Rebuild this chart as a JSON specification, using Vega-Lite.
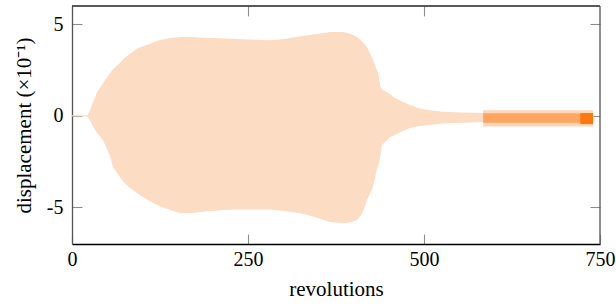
{
  "$schema": "https://vega.github.io/schema/vega-lite/v6.json",
  "autosize": "none",
  "width": 528,
  "height": 238,
  "padding": {"left": 72, "top": 6, "right": 16, "bottom": 63},
  "background": "white",
  "config": {
    "view": {"stroke": null},
    "axis": {
      "labelFont": "Liberation Serif",
      "titleFont": "Liberation Serif",
      "labelFontSize": 20,
      "titleFontSize": 21,
      "labelColor": "#000",
      "titleColor": "#000",
      "titleFontWeight": "normal",
      "grid": false,
      "tickColor": "#8c8c8c",
      "tickWidth": 1.1,
      "tickSize": 10,
      "labelFlush": false,
      "labelOverlap": false
    }
  },
  "datasets": {
    "main": [
      {"rev": 0, "lo": -0.03, "hi": 0.03},
      {"rev": 22, "lo": -0.03, "hi": 0.03},
      {"rev": 26, "lo": -0.3, "hi": 0.35},
      {"rev": 30, "lo": -0.6, "hi": 0.75},
      {"rev": 35, "lo": -0.9, "hi": 1.24},
      {"rev": 44, "lo": -1.33, "hi": 1.8},
      {"rev": 54, "lo": -2.2, "hi": 2.33},
      {"rev": 58, "lo": -2.78, "hi": 2.55},
      {"rev": 69, "lo": -3.4, "hi": 2.93},
      {"rev": 73, "lo": -3.6, "hi": 3.1},
      {"rev": 81, "lo": -3.9, "hi": 3.35},
      {"rev": 93, "lo": -4.23, "hi": 3.69},
      {"rev": 101, "lo": -4.45, "hi": 3.8},
      {"rev": 116, "lo": -4.78, "hi": 4.02},
      {"rev": 126, "lo": -4.95, "hi": 4.15},
      {"rev": 140, "lo": -5.14, "hi": 4.25},
      {"rev": 154, "lo": -5.32, "hi": 4.3},
      {"rev": 171, "lo": -5.3, "hi": 4.3},
      {"rev": 186, "lo": -5.24, "hi": 4.27},
      {"rev": 211, "lo": -5.15, "hi": 4.24},
      {"rev": 232, "lo": -5.12, "hi": 4.2},
      {"rev": 253, "lo": -5.11, "hi": 4.17},
      {"rev": 281, "lo": -5.11, "hi": 4.13},
      {"rev": 302, "lo": -5.2, "hi": 4.2},
      {"rev": 324, "lo": -5.32, "hi": 4.35},
      {"rev": 343, "lo": -5.5, "hi": 4.45},
      {"rev": 357, "lo": -5.69, "hi": 4.52},
      {"rev": 367, "lo": -5.8, "hi": 4.58},
      {"rev": 386, "lo": -5.87, "hi": 4.58},
      {"rev": 398, "lo": -5.8, "hi": 4.45},
      {"rev": 405, "lo": -5.69, "hi": 4.31},
      {"rev": 411, "lo": -5.4, "hi": 4.1},
      {"rev": 416, "lo": -4.96, "hi": 3.9},
      {"rev": 419, "lo": -4.6, "hi": 3.76},
      {"rev": 426, "lo": -4.05, "hi": 3.2},
      {"rev": 428, "lo": -3.8, "hi": 3.04},
      {"rev": 433, "lo": -2.96, "hi": 2.5},
      {"rev": 435, "lo": -2.7, "hi": 2.33},
      {"rev": 438, "lo": -2.24, "hi": 1.6},
      {"rev": 440, "lo": -1.6, "hi": 1.45},
      {"rev": 452, "lo": -1.15, "hi": 1.2},
      {"rev": 456, "lo": -1.1, "hi": 1.04},
      {"rev": 468, "lo": -0.85, "hi": 0.8},
      {"rev": 481, "lo": -0.65, "hi": 0.58},
      {"rev": 494, "lo": -0.55, "hi": 0.4},
      {"rev": 509, "lo": -0.5, "hi": 0.31},
      {"rev": 527, "lo": -0.42, "hi": 0.22},
      {"rev": 554, "lo": -0.38, "hi": 0.18},
      {"rev": 584, "lo": -0.33, "hi": 0.16},
      {"rev": 741, "lo": -0.33, "hi": 0.16}
    ],
    "midOuter": [
      {"rev": 584, "lo": -0.58, "hi": 0.3},
      {"rev": 740, "lo": -0.58, "hi": 0.3}
    ],
    "mid": [
      {"rev": 584, "lo": -0.38, "hi": 0.13},
      {"rev": 740, "lo": -0.38, "hi": 0.13}
    ],
    "end": [
      {"rev": 722, "lo": -0.45, "hi": 0.15},
      {"rev": 740, "lo": -0.45, "hi": 0.15}
    ],
    "frameTop": [{"v": 6}],
    "frameRight": [{"v": 750}]
  },
  "layer": [
    {
      "data": {"name": "main"},
      "mark": {"type": "area", "color": "#fddcc4", "opacity": 1},
      "encoding": {
        "x": {"field": "rev", "type": "quantitative",
              "scale": {"domain": [0, 750], "nice": false, "zero": false},
              "axis": {"orient": "bottom", "title": "revolutions", "values": [0, 250, 500, 750],
                       "offset": -10, "domain": false, "labelPadding": 5, "titlePadding": 9}},
        "y": {"field": "hi", "type": "quantitative",
              "scale": {"domain": [-7, 6], "nice": false, "zero": false},
              "axis": {"orient": "left", "title": "displacement (×10⁻¹)", "values": [-5, 0, 5],
                       "offset": -10, "domain": false, "labelPadding": 9, "titlePadding": 12,
                       "labelExpr": "'' + datum.value"}},
        "y2": {"field": "lo"}
      }
    },
    {
      "data": {"name": "midOuter"},
      "mark": {"type": "area", "color": "#ffa562", "opacity": 0.45},
      "encoding": {
        "x": {"field": "rev", "type": "quantitative",
              "axis": {"orient": "top", "title": null, "labels": false, "domain": false,
                       "values": [250, 500], "offset": -10}},
        "y": {"field": "hi", "type": "quantitative",
              "axis": {"orient": "right", "title": null, "labels": false, "domain": false,
                       "values": [-5, 0, 5], "offset": -10}},
        "y2": {"field": "lo"}
      }
    },
    {
      "data": {"name": "mid"},
      "mark": {"type": "area", "color": "#ffa562"},
      "encoding": {
        "x": {"field": "rev", "type": "quantitative",
              "axis": {"orient": "bottom", "title": null, "labels": false, "ticks": false,
                       "domain": true, "domainColor": "#000", "domainWidth": 1.3}},
        "y": {"field": "hi", "type": "quantitative",
              "axis": {"orient": "left", "title": null, "labels": false, "ticks": false,
                       "domain": true, "domainColor": "#555", "domainWidth": 1.3}},
        "y2": {"field": "lo"}
      }
    },
    {
      "data": {"name": "end"},
      "mark": {"type": "area", "color": "#ff7711"},
      "encoding": {
        "x": {"field": "rev", "type": "quantitative", "axis": null},
        "y": {"field": "hi", "type": "quantitative", "axis": null},
        "y2": {"field": "lo"}
      }
    },
    {
      "data": {"name": "frameTop"},
      "mark": {"type": "rule", "color": "#222", "strokeWidth": 1.3},
      "encoding": {"y": {"field": "v", "type": "quantitative", "axis": null}}
    },
    {
      "data": {"name": "frameRight"},
      "mark": {"type": "rule", "color": "#555", "strokeWidth": 1.3},
      "encoding": {"x": {"field": "v", "type": "quantitative", "axis": null}}
    }
  ],
  "resolve": {"axis": {"x": "independent", "y": "independent"}}
}
